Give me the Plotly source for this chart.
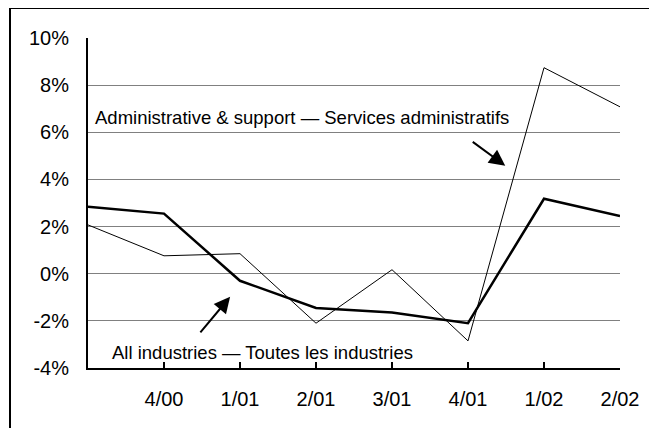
import plotly.graph_objects as go

quarters = ["3/00", "4/00", "1/01", "2/01", "3/01", "4/01", "1/02", "2/02"]
tick_labels = ["", "4/00", "1/01", "2/01", "3/01", "4/01", "1/02", "2/02"]
all_industries = [2.84, 2.55, -0.3, -1.45, -1.65, -2.1, 3.18, 2.45]
admin_support = [2.07, 0.76, 0.85, -2.1, 0.17, -2.85, 8.74, 7.08]
y_ticks = [-4, -2, 0, 2, 4, 6, 8, 10]

xpos = list(range(len(quarters)))
FONT = "Liberation Sans, Arial, sans-serif"

fig = go.Figure()
fig.add_trace(go.Scatter(x=xpos, y=admin_support, mode="lines",
                         line=dict(color="black", width=1), name="Administrative & support",
                         hovertext=quarters))
fig.add_trace(go.Scatter(x=xpos, y=all_industries, mode="lines",
                         line=dict(color="black", width=2.5), name="All industries",
                         hovertext=quarters))

# page body has an 8px margin, so the figure is 8px smaller and offset
fig.update_layout(
    width=649, height=420,
    margin=dict(l=80, r=37, t=30, b=60),
    paper_bgcolor="white", plot_bgcolor="white",
    showlegend=False,
    font=dict(family=FONT, size=20, color="black"),
)
fig.update_xaxes(range=[0, 7], tickvals=xpos, ticktext=tick_labels,
                 showgrid=False, zeroline=False,
                 showline=True, linecolor="black", linewidth=2,
                 ticks="inside", ticklen=6, tickwidth=1.5, tickcolor="black",
                 ticklabelstandoff=12, tickfont=dict(size=20))
fig.update_yaxes(range=[-4, 10], tickvals=y_ticks,
                 ticktext=[f"{v}%" for v in y_ticks],
                 showgrid=True, gridcolor="#808080", gridwidth=1,
                 zeroline=False,
                 showline=True, linecolor="black", linewidth=2,
                 ticks="", ticklabelstandoff=13, tickfont=dict(size=20))

# outer frame
fig.add_shape(type="rect", xref="paper", yref="paper",
              x0=(10 - 88) / 532, x1=(652 - 88) / 532,
              y0=(368 - 440) / 330, y1=(368 - 8) / 330,
              line=dict(color="black", width=2), fillcolor="rgba(0,0,0,0)", layer="below")

fig.add_annotation(x=0.066, y=6.62, xref="x", yref="y", xanchor="left", yanchor="middle",
                   text="Administrative & support — Services administratifs",
                   showarrow=False, font=dict(family=FONT, size=18.5, color="black"))
fig.add_annotation(x=0.29, y=-3.35, xref="x", yref="y", xanchor="left", yanchor="middle",
                   text="All industries — Toutes les industries",
                   showarrow=False, font=dict(family=FONT, size=18.5, color="black"))

fig.add_annotation(x=5.49, y=4.58, xref="x", yref="y", text="", showarrow=True,
                   ax=-34, ay=-25, arrowhead=2, arrowsize=1.6, arrowwidth=2, arrowcolor="black")
fig.add_annotation(x=1.87, y=-0.98, xref="x", yref="y", text="", showarrow=True,
                   ax=-31, ay=37, arrowhead=2, arrowsize=1.6, arrowwidth=2, arrowcolor="black")

fig.write_html("out.html")
